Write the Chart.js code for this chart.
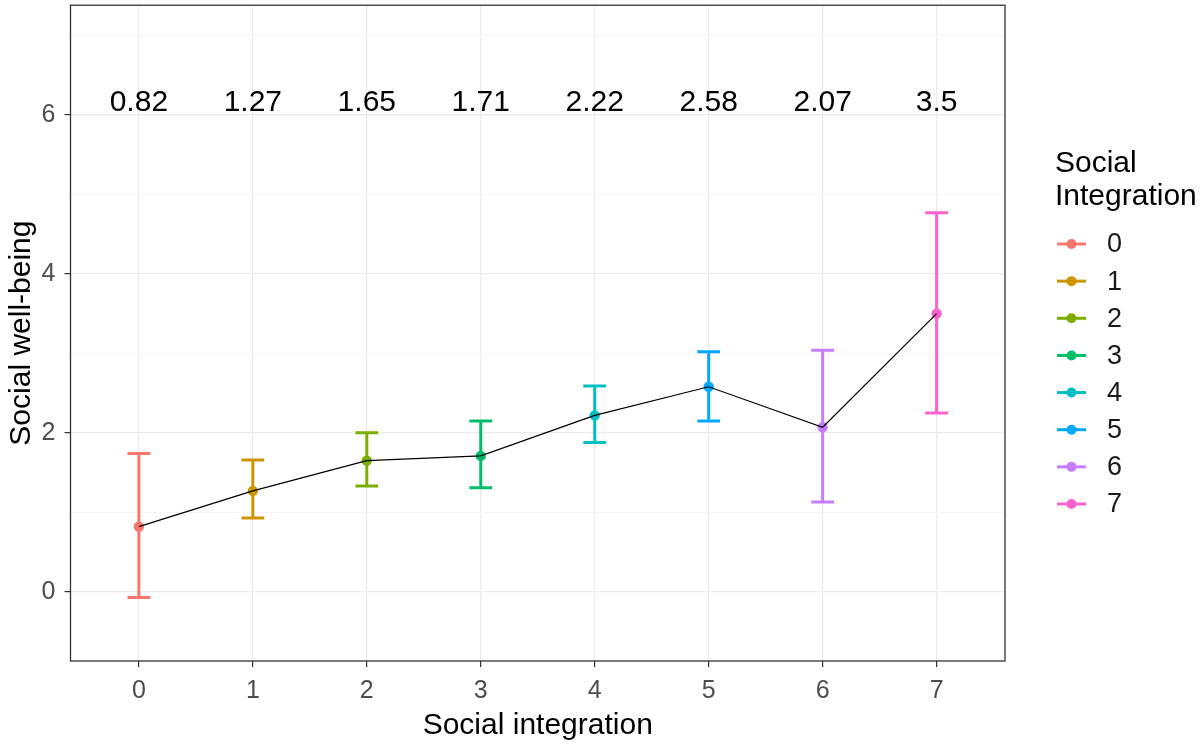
<!DOCTYPE html>
<html>
<head>
<meta charset="utf-8">
<title>Social well-being by social integration</title>
<script src="https://cdn.jsdelivr.net/npm/chart.js@4.4.1/dist/chart.umd.min.js"></script>
<style>
  html, body { margin: 0; padding: 0; background: #ffffff; }
  canvas { display: block; }
</style>
</head>
<body>
<canvas id="chart" width="1204" height="744"></canvas>
<script>
// Social integration groups (x axis) and their colours
const categories = ['0', '1', '2', '3', '4', '5', '6', '7'];
const groupColors = ['#F8766D', '#CD9600', '#7CAE00', '#00BE67', '#00BFC4', '#00A9FF', '#C77CFF', '#FF61CC'];

// Mean social well-being per group and its confidence interval
const means = [0.82, 1.27, 1.65, 1.71, 2.22, 2.58, 2.07, 3.5];
const lowerCI = [-0.07, 0.93, 1.33, 1.31, 1.88, 2.15, 1.13, 2.25];
const upperCI = [1.74, 1.66, 2.00, 2.15, 2.59, 3.02, 3.04, 4.77];

// Axis ticks and grid positions
const xTickValues = [0, 1, 2, 3, 4, 5, 6, 7];
const yGridValues = [0, 1, 2, 3, 4, 5, 6, 7];
const yTickLabels = [0, 2, 4, 6];

// Height at which the mean values are printed
const labelY = 6.15;

const FONT = '"Liberation Sans", Arial, Helvetica, sans-serif';

const errorBarPlugin = {
  id: 'errorBars',
  beforeDatasetsDraw(chart) {
    const { ctx, scales: { x, y } } = chart;
    ctx.save();
    ctx.lineWidth = 3;
    ctx.lineCap = 'butt';
    categories.forEach((c, i) => {
      const px = x.getPixelForValue(i);
      const half = x.getPixelForValue(i + 0.1) - px;
      const yl = y.getPixelForValue(lowerCI[i]);
      const yu = y.getPixelForValue(upperCI[i]);
      ctx.strokeStyle = groupColors[i];
      ctx.beginPath();
      ctx.moveTo(px, yl); ctx.lineTo(px, yu);
      ctx.moveTo(px - half, yl); ctx.lineTo(px + half, yl);
      ctx.moveTo(px - half, yu); ctx.lineTo(px + half, yu);
      ctx.stroke();
    });
    ctx.restore();
  }
};

const valueLabelPlugin = {
  id: 'valueLabels',
  afterDatasetsDraw(chart) {
    const { ctx, scales: { x, y } } = chart;
    ctx.save();
    ctx.font = '30px ' + FONT;
    ctx.fillStyle = '#000000';
    ctx.textAlign = 'center';
    ctx.textBaseline = 'middle';
    means.forEach((m, i) => {
      ctx.fillText(String(m), x.getPixelForValue(i), y.getPixelForValue(labelY));
    });
    ctx.restore();
  }
};

const panelBorderPlugin = {
  id: 'panelBorder',
  afterDraw(chart) {
    const { ctx, chartArea: a } = chart;
    ctx.save();
    ctx.strokeStyle = '#333333';
    ctx.lineWidth = 1.3;
    ctx.strokeRect(a.left, a.top, a.right - a.left, a.bottom - a.top);
    ctx.restore();
  }
};

const legendPlugin = {
  id: 'groupLegend',
  afterDraw(chart) {
    const { ctx } = chart;
    const left = 1055;
    ctx.save();
    ctx.fillStyle = '#000000';
    ctx.textAlign = 'left';
    ctx.textBaseline = 'alphabetic';
    ctx.font = '30px ' + FONT;
    ctx.fillText('Social', left, 172);
    ctx.fillText('Integration', left, 205);

    ctx.font = '27px ' + FONT;
    ctx.textBaseline = 'middle';
    categories.forEach((c, i) => {
      const cy = 244 + i * 37.14;
      ctx.strokeStyle = groupColors[i];
      ctx.lineWidth = 3;
      ctx.beginPath();
      ctx.moveTo(1057, cy);
      ctx.lineTo(1086, cy);
      ctx.stroke();
      ctx.fillStyle = groupColors[i];
      ctx.beginPath();
      ctx.arc(1071.5, cy, 5, 0, Math.PI * 2);
      ctx.fill();
      ctx.fillStyle = '#1a1a1a';
      ctx.fillText(c, 1107, cy + 1);
    });
    ctx.restore();
  }
};

const pointDatasets = categories.map((c, i) => ({
  label: c,
  data: [{ x: i, y: means[i] }],
  backgroundColor: groupColors[i],
  borderColor: groupColors[i],
  pointRadius: 5.2,
  pointBorderWidth: 0,
  order: 1
}));

const lineDataset = {
  label: 'mean',
  data: means.map((m, i) => ({ x: i, y: m })),
  showLine: true,
  borderColor: '#000000',
  borderWidth: 1.2,
  pointRadius: 0,
  order: 0
};

new Chart(document.getElementById('chart'), {
  type: 'scatter',
  data: { datasets: [...pointDatasets, lineDataset] },
  options: {
    responsive: false,
    animation: false,
    devicePixelRatio: 1,
    layout: { padding: { left: 0, right: 199, top: 4, bottom: 0 } },
    plugins: {
      legend: { display: false },
      tooltip: { enabled: false }
    },
    scales: {
      x: {
        type: 'linear',
        min: -0.6,
        max: 7.6,
        afterBuildTicks: (s) => { s.ticks = xTickValues.map(v => ({ value: v })); },
        afterFit: (s) => { s.height = 83; s.paddingLeft = 0; s.paddingRight = 0; },
        border: { display: false },
        grid: {
          color: '#EBEBEB',
          lineWidth: 1.2,
          tickLength: 6,
          tickColor: '#333333',
          tickWidth: 1.2
        },
        ticks: {
          color: '#4D4D4D',
          font: { family: FONT, size: 25 },
          padding: 9,
          maxRotation: 0,
          callback: (v, idx) => categories[idx]
        },
        title: {
          display: true,
          text: 'Social integration',
          color: '#000000',
          font: { family: FONT, size: 30 },
          padding: { top: 0, bottom: 0 }
        }
      },
      y: {
        type: 'linear',
        min: -0.87,
        max: 7.38,
        afterBuildTicks: (s) => { s.ticks = yGridValues.map(v => ({ value: v })); },
        afterFit: (s) => { s.width = 70.5; s.paddingTop = 0; s.paddingBottom = 0; },
        border: { display: false },
        grid: {
          color: (ctx) => (ctx.tick && ctx.tick.value % 2 === 0) ? '#EBEBEB' : '#F2F2F2',
          lineWidth: (ctx) => (ctx.tick && ctx.tick.value % 2 === 0) ? 1.2 : 0.8,
          tickLength: 6,
          tickColor: (ctx) => (ctx.tick && ctx.tick.value % 2 === 0) ? '#333333' : 'rgba(0,0,0,0)',
          tickWidth: 1.2
        },
        ticks: {
          color: '#4D4D4D',
          font: { family: FONT, size: 25 },
          padding: 9,
          callback: (v) => yTickLabels.includes(v) ? String(v) : ''
        },
        title: {
          display: true,
          text: 'Social well-being',
          color: '#000000',
          font: { family: FONT, size: 30 },
          padding: { top: 4, bottom: 0 }
        }
      }
    }
  },
  plugins: [errorBarPlugin, valueLabelPlugin, panelBorderPlugin, legendPlugin]
});
</script>
</body>
</html>
